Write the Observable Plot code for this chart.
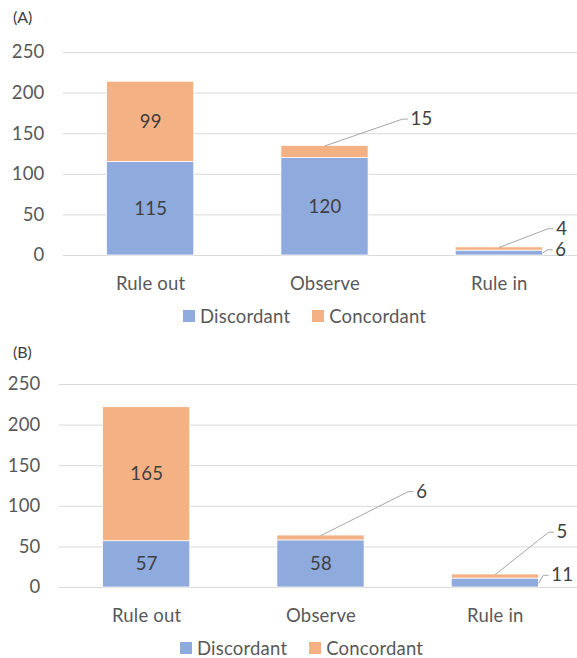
<!DOCTYPE html>
<html><head><meta charset="utf-8">
<script src="https://cdn.jsdelivr.net/npm/d3@7"></script>
<script src="https://cdn.jsdelivr.net/npm/@observablehq/plot@0.6"></script>
<style>
body{margin:0;background:#fff;font-family:Lato,sans-serif;}
#chart{position:relative;width:577px;height:658px;overflow:hidden}
.panel{position:absolute;left:0;width:577px}
.ptitle{position:absolute;font-size:16px;line-height:18px;color:#404040;}
.legend{position:absolute;display:flex;align-items:center;font-size:18.5px;letter-spacing:0.2px;line-height:22px;color:#595959;white-space:nowrap}
.legend .sw{width:12px;height:12px;display:inline-block;margin-right:5px}
.legend .item{display:flex;align-items:center;margin-right:22px}
.panel svg{position:absolute;left:0}
</style></head><body><div id="chart"></div>
<script>
const categories = ["Rule out", "Observe", "Rule in"];
const seriesNames = ["Discordant", "Concordant"];
const discordantA = [115, 120, 6];
const concordantA = [99, 15, 4];
const discordantB = [57, 58, 11];
const concordantB = [165, 6, 5];
const yTicks = [0, 50, 100, 150, 200, 250];
const panelTitles = ["(A)", "(B)"];

// callout placement (style only): label height in data units, elbow offset in band units
const calloutsA = [
  {cat: 1, series: "Concordant", labelY: 168, offset: 0.445, anchor: "top"},
  {cat: 2, series: "Concordant", labelY: 33, offset: 0.28, anchor: "top"},
  {cat: 2, series: "Discordant", labelY: 7, offset: 0.275, anchor: "side"}
];
const calloutsB = [
  {cat: 1, series: "Concordant", labelY: 118, offset: 0.5, anchor: "top"},
  {cat: 2, series: "Concordant", labelY: 68, offset: 0.305, anchor: "top"},
  {cat: 2, series: "Discordant", labelY: 15, offset: 0.275, anchor: "side"}
];
const colors = ["#8FAADC", "#F4B183"];
const FS = 18.5;

function panel(title, discordant, concordant, callouts, o) {
  const div = document.createElement("div");
  div.className = "panel";
  div.style.top = o.top + "px";
  div.style.height = o.height + "px";

  const t = document.createElement("div");
  t.className = "ptitle";
  t.textContent = title;
  t.style.left = o.titleLeft + "px";
  t.style.top = o.titleTop + "px";
  div.appendChild(t);

  const rows = [];
  categories.forEach((c, i) => {
    rows.push({i, series: seriesNames[0], value: discordant[i], y1: 0, y2: discordant[i]});
    rows.push({i, series: seriesNames[1], value: concordant[i], y1: discordant[i], y2: discordant[i] + concordant[i]});
  });
  const isCallout = r => callouts.some(c => c.cat === r.i && c.series === r.series);
  const inside = rows.filter(r => !isCallout(r));

  const xr = [o.x0, o.x0 + 523];
  const unit = (xr[1] - xr[0]) / 3;
  const stub = 5 / unit;
  const half = 0.25;

  const leaders = [];
  const labels = [];
  callouts.forEach((c, k) => {
    const r = rows.find(r => r.i === c.cat && r.series === c.series);
    const ax = c.anchor === "top" ? r.i : r.i + half;
    const ay = c.anchor === "top" ? r.y2 : (r.y1 + r.y2) / 2;
    const ex = r.i + c.offset;
    leaders.push({id: k, x: ax, y: ay});
    leaders.push({id: k, x: ex, y: c.labelY});
    leaders.push({id: k, x: ex + stub, y: c.labelY});
    labels.push({x: ex + stub, y: c.labelY, text: r.value});
  });

  const svg = Plot.plot({
    width: 577,
    height: 270,
    marginLeft: o.x0,
    marginRight: 0,
    marginTop: 24,
    marginBottom: 43,
    style: {fontFamily: "Lato, sans-serif", fontSize: FS + "px", color: "#595959", background: "transparent", letterSpacing: "0.2px"},
    x: {domain: [-0.5, 2.5], range: xr, axis: null},
    y: {domain: [0, 250], range: [227, 24], axis: null},
    color: {domain: seriesNames, range: colors},
    marks: [
      Plot.gridY(yTicks, {stroke: "#D9D9D9", strokeOpacity: 1, strokeWidth: 1}),
      Plot.rectY(rows, {x1: d => d.i - half, x2: d => d.i + half, y1: "y1", y2: "y2", fill: "series", stroke: "white", strokeWidth: 0.75}),
      Plot.text(inside, {x: "i", y: d => (d.y1 + d.y2) / 2, text: "value", fill: "#404040", fontSize: FS}),
      Plot.line(leaders, {x: "x", y: "y", z: "id", stroke: "#A6A6A6", strokeWidth: 1}),
      Plot.text(labels, {x: "x", y: "y", text: "text", textAnchor: "start", dx: 3, fill: "#404040", fontSize: FS}),
      Plot.axisY(yTicks, {tickSize: 0, tickPadding: 19, label: null, fontSize: FS}),
      Plot.axisX([0, 1, 2], {tickFormat: i => categories[i], tickSize: 0, tickPadding: 21, label: null, fontSize: FS})
    ]
  });
  svg.style.top = "28px";
  div.appendChild(svg);

  const lg = document.createElement("div");
  lg.className = "legend";
  lg.style.left = o.legendLeft + "px";
  lg.style.top = "305px";
  seriesNames.forEach((s, k) => {
    const it = document.createElement("span");
    it.className = "item";
    const sw = document.createElement("span");
    sw.className = "sw";
    sw.style.background = colors[k];
    it.appendChild(sw);
    it.appendChild(document.createTextNode(s));
    lg.appendChild(it);
  });
  div.appendChild(lg);
  return div;
}

const chart = document.getElementById("chart");
chart.appendChild(panel(panelTitles[0], discordantA, concordantA, calloutsA,
  {top: 0, height: 332, titleLeft: 13, titleTop: 8, x0: 63, legendLeft: 183}));
chart.appendChild(panel(panelTitles[1], discordantB, concordantB, calloutsB,
  {top: 332, height: 326, titleLeft: 13, titleTop: 11, x0: 59, legendLeft: 180}));
</script></body></html>
